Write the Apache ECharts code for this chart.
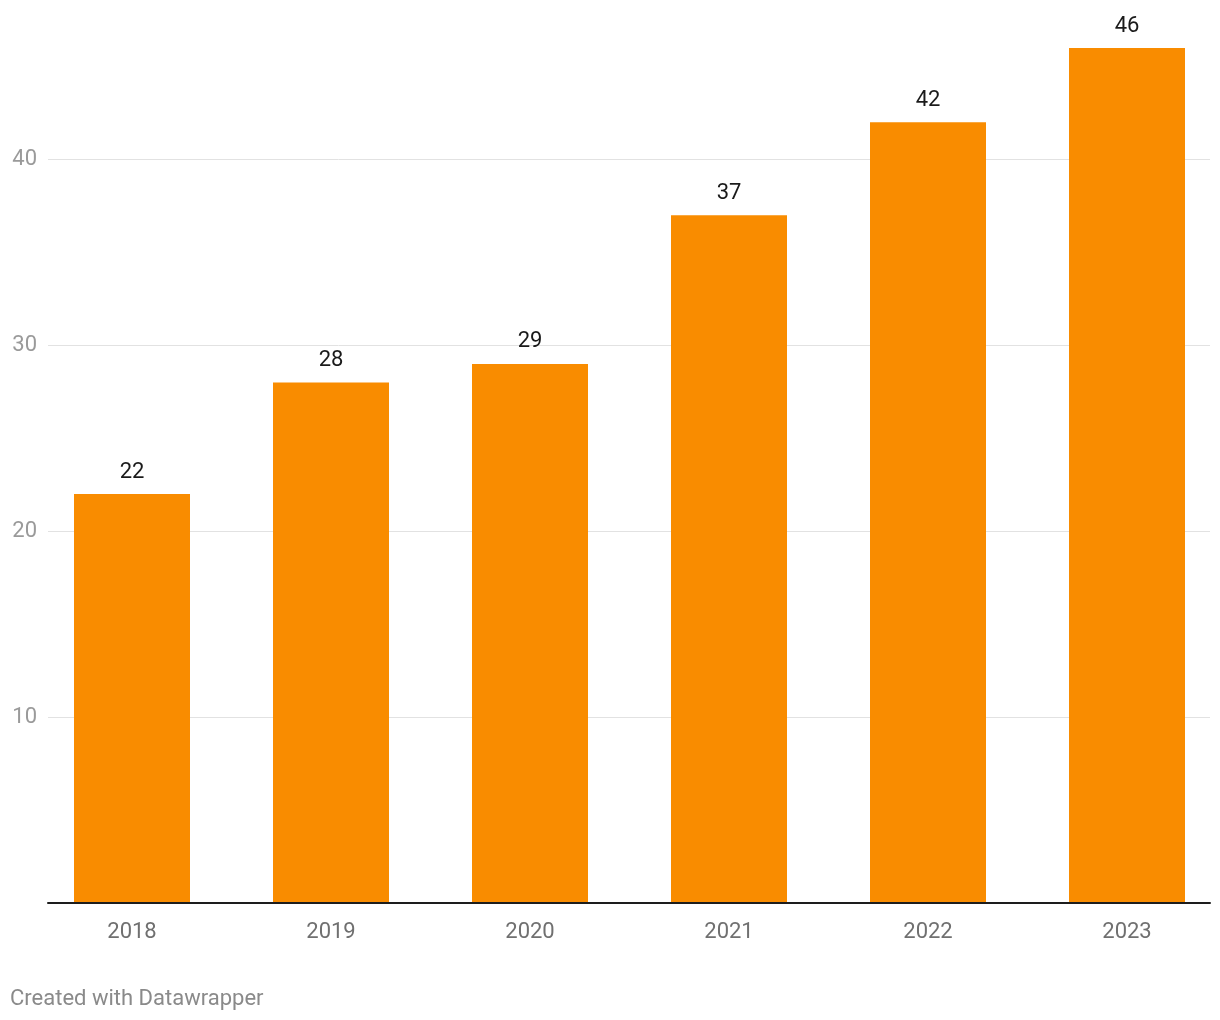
<!DOCTYPE html>
<html>
<head>
<meta charset="utf-8">
<script src="https://cdn.jsdelivr.net/npm/echarts@6/dist/echarts.min.js"></script>
<style>
html,body{margin:0;padding:0;background:#fff;}
#c{width:1220px;height:1020px;}
</style>
</head>
<body>
<div id="c"></div>
<script>
const categories = ['2018', '2019', '2020', '2021', '2022', '2023'];
const values = [22, 28, 29, 37, 42, 46];
const yTicks = [10, 20, 30, 40];

const chart = echarts.init(document.getElementById('c'), null, {renderer: 'canvas'});
const font = 'Roboto, "Noto Sans", sans-serif';
chart.setOption({
  animation: false,
  backgroundColor: '#fff',
  grid: [
    {left: 48, right: 10, top: 48, bottom: 117},
    {left: 132, right: 93, top: 48, bottom: 117}
  ],
  xAxis: [
    {gridIndex: 0, type: 'category', data: categories, axisLine: {show: true, lineStyle: {color: '#1d1d1d', width: 2}},
     axisTick: {show: false}, axisLabel: {show: false}, splitLine: {show: false}, z: 10},
    {gridIndex: 1, type: 'category', data: categories, boundaryGap: false, axisLine: {show: false}, axisTick: {show: false},
     axisLabel: {color: '#707070', fontSize: 22, fontFamily: font, margin: 18}}
  ],
  yAxis: [
    {gridIndex: 0, type: 'value', min: 0, max: 46, interval: 10,
     axisLine: {show: false}, axisTick: {show: false},
     splitLine: {showMaxLine: false, lineStyle: {color: '#e2e2e2', width: 1}},
     axisLabel: {color: '#9a9a9a', fontSize: 22, fontFamily: font, margin: 11, showMaxLabel: false,
       formatter: v => yTicks.includes(v) ? String(v) : ''}},
    {gridIndex: 1, type: 'value', min: 0, max: 46, show: false, splitLine: {show: false}}
  ],
  series: [{
    type: 'bar', xAxisIndex: 1, yAxisIndex: 1, data: values, barWidth: 116, clip: false,
    itemStyle: {color: '#f98c00'},
    label: {show: true, position: 'top', distance: 11, color: '#1a1a1a', fontSize: 22, fontFamily: font}
  }],
  graphic: [{
    type: 'text', left: 10, top: 988,
    style: {text: 'Created with Datawrapper', fill: '#8a8a8a', fontSize: 22, fontFamily: font}
  }]
});
</script>
</body>
</html>
